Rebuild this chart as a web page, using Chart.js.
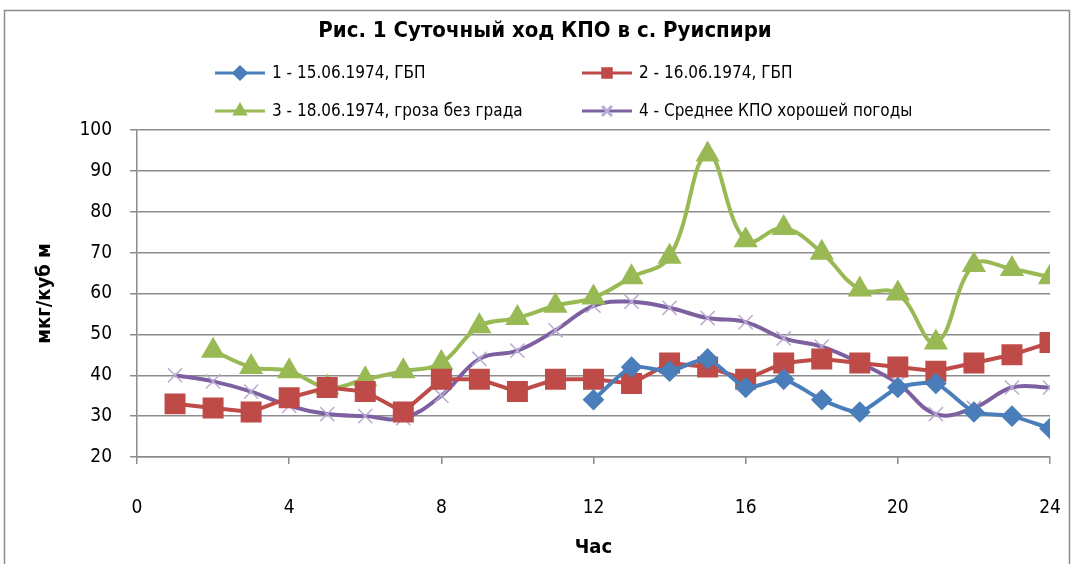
<!DOCTYPE html>
<html lang="ru">
<head>
<meta charset="utf-8">
<script src="https://cdn.jsdelivr.net/npm/chart.js@4.4.1/dist/chart.umd.min.js"></script>
<style>
  html, body { margin: 0; padding: 0; background: #fff; }
  #wrap { width: 1075px; height: 564px; position: relative; }
</style>
</head>
<body>
<div id="wrap"><canvas id="kpo"></canvas></div>

<script>
    // hours of the day and the four series (null = no measurement)
    const hours = [1, 2, 3, 4, 5, 6, 7, 8, 9, 10, 11, 12, 13, 14, 15, 16, 17, 18, 19, 20, 21, 22, 23, 24];
    const day1 = [null, null, null, null, null, null, null, null, null, null, null, 34, 42, 41, 44, 37, 39, 34, 31, 37, 38, 31, 30, 27];
    const day2 = [33, 32, 31, 34.5, 37, 36, 31, 39, 39, 36, 39, 39, 38, 43, 42, 39, 43, 44, 43, 42, 41, 43, 45, 48];
    const day3 = [null, 46, 42, 41, 37, 39, 41, 43, 52, 54, 57, 59, 64, 69, 94, 73, 76, 70, 61, 60, 48, 67, 66, 64];
    const mean = [40, 38.5, 36, 32.5, 30.5, 30, 29.5, 35, 44, 46, 51, 57, 58, 56.5, 54, 53, 49, 47, 43, 38, 30.5, 32, 37, 37];
    const seriesNames = ["1 - 15.06.1974, ГБП", "2 - 16.06.1974, ГБП", "3 - 18.06.1974, гроза без града", "4 - Среднее КПО хорошей погоды"];
    const xTicks = [0, 4, 8, 12, 16, 20, 24];

    const FONT = "'Liberation Sans Narrow', 'DejaVu Sans Condensed', 'Roboto', sans-serif";
    const toPoints = arr => hours.map((h, i) => ({x: h, y: arr[i]}));

    const datasets = [
        {
            label: seriesNames[0], data: toPoints(day1),
            borderColor: "#4a7ebb", backgroundColor: "#4a7ebb",
            pointStyle: "rectRot", pointRadius: 8, borderWidth: 4, tension: 0.2, order: 1
        },
        {
            label: seriesNames[1], data: toPoints(day2),
            borderColor: "#be4b48", backgroundColor: "#be4b48",
            pointStyle: "rect", pointRadius: 12, borderWidth: 4, tension: 0, order: 2
        },
        {
            label: seriesNames[2], data: toPoints(day3),
            borderColor: "#98b954", backgroundColor: "#98b954",
            pointStyle: "triangle", pointRadius: 10, borderWidth: 4, tension: 0.4, order: 3
        },
        {
            label: seriesNames[3], data: toPoints(mean),
            borderColor: "#7d60a0", backgroundColor: "#7d60a0",
            pointStyle: "crossRot", pointRadius: 10, pointBorderWidth: 1.5,
            pointBorderColor: "#b9abd3", borderWidth: 4, tension: 0.4, order: 4
        }
    ];

    // title, two-column legend and the outer frame
    const decor = {
        id: "decor",
        beforeDraw(chart) {
            const ctx = chart.ctx;
            ctx.save();
            ctx.strokeStyle = "#8c8c8c";
            ctx.lineWidth = 1.5;
            ctx.strokeRect(4.5, 10.5, 1065, 560);
            ctx.restore();
        },
        afterDraw(chart) {
            const ctx = chart.ctx;
            ctx.save();
            ctx.fillStyle = "#000";
            ctx.textAlign = "center";
            ctx.textBaseline = "middle";
            ctx.font = "bold 22px " + FONT;
            ctx.fillText("Рис. 1 Суточный ход КПО в с. Руиспири", 545, 31);

            const slots = [[215, 73], [582, 73], [215, 111], [582, 111]];
            chart.data.datasets.forEach((ds, i) => {
                const [lx, ly] = slots[i];
                ctx.strokeStyle = ds.borderColor;
                ctx.lineWidth = 3;
                ctx.beginPath();
                ctx.moveTo(lx, ly);
                ctx.lineTo(lx + 50, ly);
                ctx.stroke();
                const cross = ds.pointStyle === "crossRot";
                ctx.fillStyle = ds.backgroundColor;
                ctx.strokeStyle = cross ? ds.pointBorderColor : ds.borderColor;
                Chart.helpers.drawPoint(ctx, {
                    pointStyle: ds.pointStyle,
                    radius: cross ? 7 : 6,
                    borderWidth: cross ? 1.5 : 1
                }, lx + 25, ly);
                ctx.fillStyle = "#000";
                ctx.textAlign = "left";
                ctx.font = "17px " + FONT;
                ctx.fillText(ds.label, lx + 57, ly + 1);
            });
            ctx.restore();
        }
    };

    Chart.defaults.font.family = FONT;
    Chart.defaults.color = "#000";

    new Chart("kpo", {
        type: "line",
        data: {datasets: datasets},
        options: {
            responsive: true,
            maintainAspectRatio: false,
            animation: false,
            layout: {padding: {top: 130, right: 25, left: 0, bottom: 0}},
            plugins: {
                legend: {display: false},
                title: {display: false},
                tooltip: {enabled: false}
            },
            scales: {
                x: {
                    type: "linear", min: 0, max: 24,
                    afterBuildTicks: axis => { axis.ticks = xTicks.map(v => ({value: v})); },
                    afterFit: axis => { axis.height = 107; axis.paddingLeft = 0; axis.paddingRight = 0; },
                    grid: {display: true, drawOnChartArea: false, drawTicks: true, tickLength: 7, color: "#8c8c8c", lineWidth: 1.5},
                    border: {color: "#8c8c8c", width: 1.5},
                    ticks: {font: {size: 19}, padding: 33, maxRotation: 0},
                    title: {display: true, text: "Час", font: {size: 20, weight: "bold"}, padding: {top: 4}}
                },
                y: {
                    min: 20, max: 100,
                    afterFit: axis => { axis.width = 137; axis.paddingTop = 0; axis.paddingBottom = 0; },
                    grid: {color: "#8c8c8c", lineWidth: 1.5, tickLength: 7},
                    border: {color: "#8c8c8c", width: 1.5},
                    ticks: {stepSize: 10, font: {size: 19}, padding: 18},
                    title: {display: true, text: "мкг/куб м", font: {size: 20, weight: "bold"}, padding: {top: 33, bottom: 0}}
                }
            }
        },
        plugins: [decor]
    });
</script>
</body>
</html>
